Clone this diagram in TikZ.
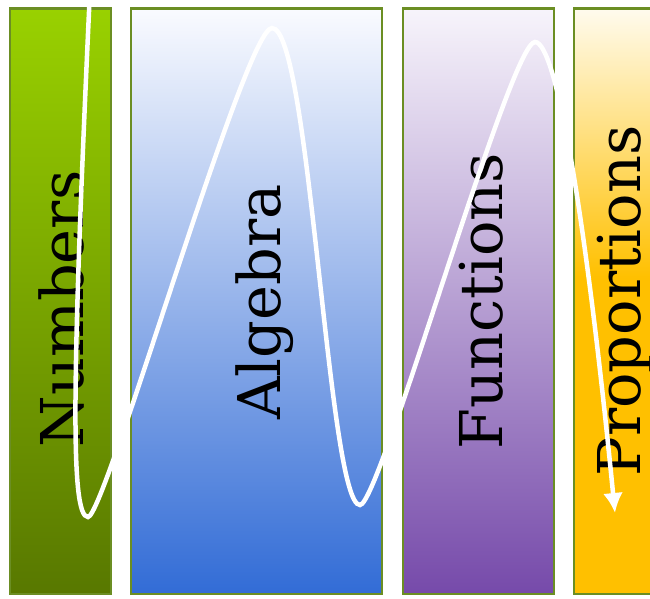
\documentclass[tikz,border=0pt]{standalone}
\usepackage{fontspec}
\setmainfont{DejaVu Serif}
\usetikzlibrary{arrows.meta}
\definecolor{barline}{RGB}{107,142,35}
\definecolor{gtop}{RGB}{153,209,0}
\definecolor{gbot}{RGB}{88,120,0}
\definecolor{btop}{RGB}{250,251,255}
\definecolor{bbot}{RGB}{50,108,214}
\definecolor{ptop}{RGB}{247,244,251}
\definecolor{pbot}{RGB}{118,74,170}
\definecolor{ytop}{RGB}{255,251,238}
\definecolor{ybot}{RGB}{255,192,0}
\pgfdeclareverticalshading{greensh}{100bp}{color(0bp)=(gbot); color(25bp)=(gbot); color(75bp)=(gtop); color(100bp)=(gtop)}
\pgfdeclareverticalshading{bluesh}{100bp}{color(0bp)=(bbot); color(25bp)=(bbot); color(75bp)=(btop); color(100bp)=(btop)}
\pgfdeclareverticalshading{purplesh}{100bp}{color(0bp)=(pbot); color(25bp)=(pbot); color(75bp)=(ptop); color(100bp)=(ptop)}
\pgfdeclareverticalshading{yellowsh}{100bp}{color(0bp)=(ybot); color(25bp)=(ybot); color(52bp)=(ybot); color(75bp)=(ytop); color(100bp)=(ytop)}
\tikzset{
  bar/.style={draw=barline, line width=2.5pt, inner sep=0pt, minimum height=585.5pt, shade, shading=#1},
  bartext/.style={rotate=90, anchor=base, font=\fontsize{59}{63}\selectfont, text=black, inner sep=0pt},
  curve/.style={draw=white, line width=4.5pt, -{Latex[length=20pt,width=20pt]}}
}
\begin{document}
\begin{tikzpicture}[x=1pt,y=-1pt]
\useasboundingbox (0,0) rectangle (650,598);
\clip (0,0) rectangle (650,598);
\fill[white] (0,0) rectangle (650,598);
\node[bar=greensh, minimum width=101pt] (numbox) at (60.5,301) {};
\node[bar=bluesh, minimum width=251pt] (algbox) at (256.5,301) {};
\node[bar=purplesh, minimum width=151pt] (funbox) at (478.5,301) {};
\node[bar=yellowsh, minimum width=90pt] (probox) at (619,301) {};
\node[bartext] (numtxt) at (83,309) {Numbers};
\node[bartext] (algtxt) at (280,302) {Algebra};
\node[bartext] (funtxt) at (502,301) {Functions};
\node[bartext] (protxt) at (640,301) {Proportions};
\coordinate (cstart) at (90,-10);
\coordinate (low1) at (88,517);
\coordinate (high1) at (272,28);
\coordinate (low2) at (360,505);
\coordinate (high2) at (535,42);
\coordinate (cend) at (615,513);
\draw[curve] (cstart)
  .. controls (72,380) and (70,517) .. (low1)
  .. controls (105,517) and (245,28) .. (high1)
  .. controls (310,28) and (328,505) .. (low2)
  .. controls (380,505) and (510,42) .. (high2)
  .. controls (556,42) and (585,210) .. (cend);
\end{tikzpicture}
\end{document}
